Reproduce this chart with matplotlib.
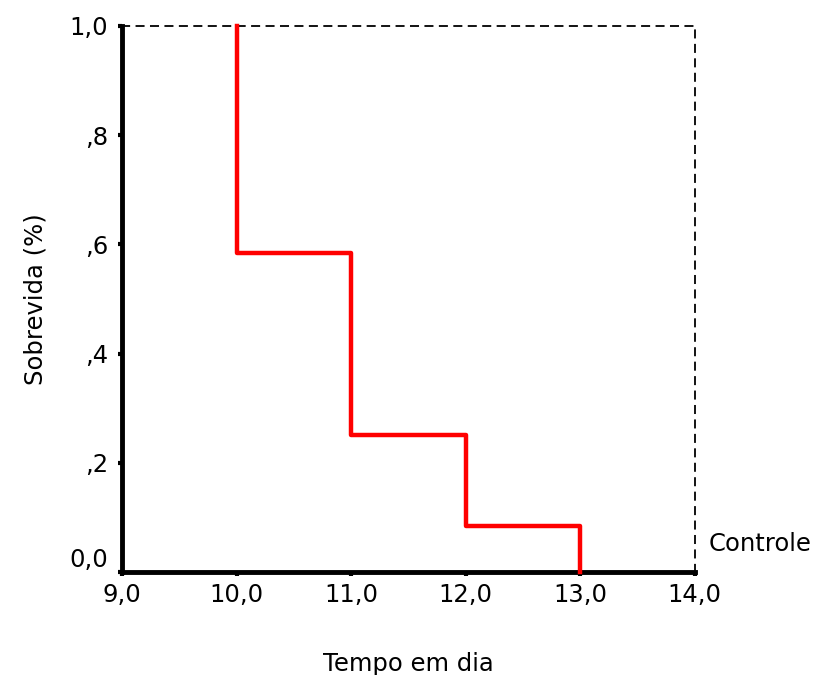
import numpy as np
import matplotlib.pyplot as plt

plt.rcParams['font.family'] = ['DejaVu Sans']

# tempo (dias) e sobrevida acumulada
tempos = [10.0, 10.0, 11.0, 12.0, 13.0]
sobrevida = [1.0, 7 / 12, 3 / 12, 1 / 12, 0.0]

xticks = [9, 10, 11, 12, 13, 14]
xlabels = ['9,0', '10,0', '11,0', '12,0', '13,0', '14,0']
yticks = [0.0, 0.2, 0.4, 0.6, 0.8, 1.0]
ylabels = ['0,0', ',2', ',4', ',6', ',8', '1,0']

fig = plt.figure(figsize=(8.3, 6.75), dpi=100)
ax = fig.add_axes([0.147, 0.1526, 0.690, 0.809])

ax.step(tempos, sobrevida, where='post', color='red', lw=3.2, clip_on=False, zorder=3)

ax.set_xlim(9, 14)
ax.set_ylim(0, 1)
ax.set_xticks(xticks)
ax.set_xticklabels(xlabels)
ax.set_yticks(yticks)
ax.set_yticklabels(ylabels)

for s in ['left', 'bottom']:
    ax.spines[s].set_linewidth(3.5)
for s in ['top', 'right']:
    ax.spines[s].set_linewidth(1.3)
    ax.spines[s].set_linestyle((0, (4, 4)))

ax.tick_params(direction='out', length=3, width=3, labelsize=17.5)
ax.tick_params(axis='x', pad=5)
ax.tick_params(axis='y', pad=7)
# 0,0 fica um pouco acima da marca
ax.get_yticklabels()[0].set_va('bottom')

ax.set_xlabel('Tempo em dia', fontsize=17.5, labelpad=32)
ax.set_ylabel('Sobrevida (%)', fontsize=17.5, labelpad=16)

ax.text(1.025, 0.052, 'Controle', transform=ax.transAxes, fontsize=17.5,
        va='center', ha='left')

plt.savefig('out.png')
